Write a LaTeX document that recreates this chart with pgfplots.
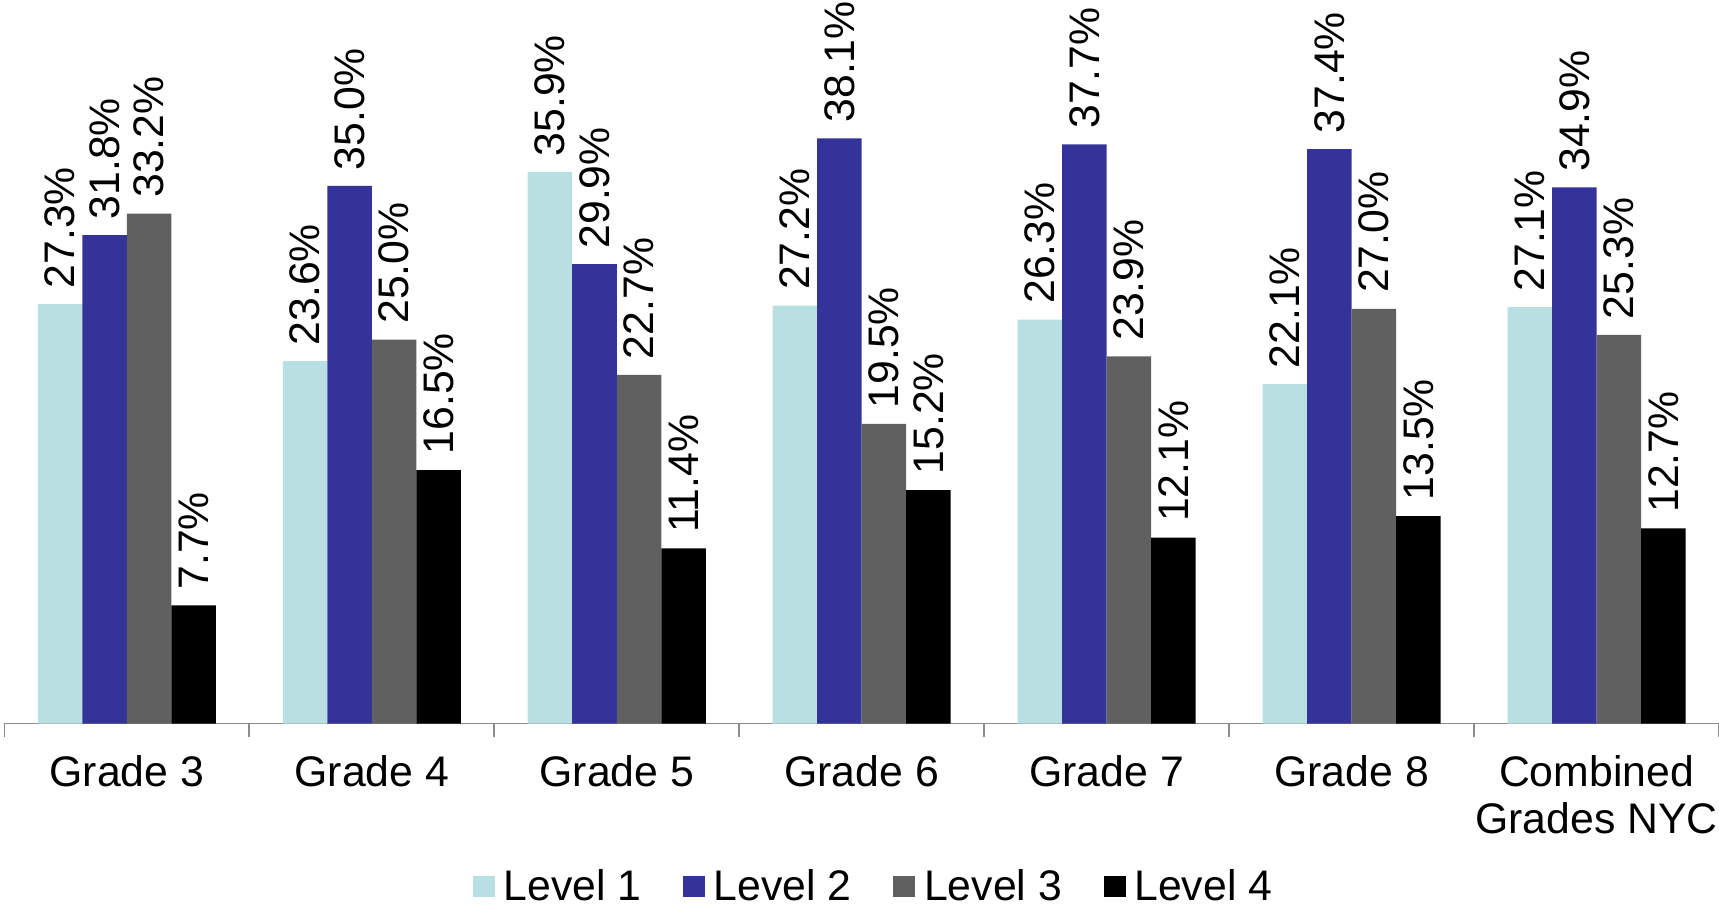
\documentclass[border=0pt]{standalone}
\usepackage{fontspec}
\setmainfont{Liberation Sans}
\usepackage{pgfplots}
\pgfplotsset{compat=1.18}
\definecolor{lvone}{RGB}{184,223,226}
\definecolor{lvtwo}{RGB}{51,51,153}
\definecolor{lvthree}{RGB}{96,96,96}
\definecolor{axgray}{RGB}{140,140,140}
\newcommand{\cf}{\fontsize{19.5}{21.5}\selectfont}
\begin{document}
\begin{tikzpicture}
\begin{axis}[
  name=ax,
  scale only axis,
  width=782pt, height=330pt,
  xmin=-0.5, xmax=6.5,
  ymin=0, ymax=47.1,
  ybar=0pt, bar width=20.3pt,
  axis x line*=bottom,
  axis y line=none,
  x axis line style={axgray, line width=0.8pt},
  xtick={-0.5,0.5,1.5,2.5,3.5,4.5,5.5,6.5},
  xticklabels={},
  tick align=outside,
  major tick length=6pt,
  x tick style={axgray, line width=0.8pt},
  extra x ticks={0,1,2,3,4,5,6},
  extra x tick labels={Grade 3,Grade 4,Grade 5,Grade 6,Grade 7,Grade 8,{Combined\\Grades NYC}},
  extra x tick style={major tick length=0pt, tick style={draw=none}},
  xticklabel style={font=\cf, align=center, anchor=north, yshift=-11pt},
  clip=false,
  nodes near coords={\pgfmathprintnumber[fixed,fixed zerofill,precision=1,assume math mode=true]{\pgfplotspointmeta}\%},
  every node near coord/.append style={font=\cf, rotate=90, anchor=west, inner xsep=7pt, inner ysep=0pt, text=black},
  legend columns=-1,
  legend style={draw=none, font=\cf, at={(0.5,-0.1924)}, anchor=north, xshift=6pt,
    nodes={inner xsep=2pt, inner ysep=1pt},
    /tikz/every odd column/.append style={column sep=2pt},
    /tikz/every even column/.append style={column sep=17pt}},
  legend image code/.code={\fill[#1] (0pt,-4.8pt) rectangle (10pt,5.2pt);},
]
\addplot[fill=lvone, draw=none] coordinates {(0,27.3) (1,23.6) (2,35.9) (3,27.2) (4,26.3) (5,22.1) (6,27.1)};
\addplot[fill=lvtwo, draw=none] coordinates {(0,31.8) (1,35.0) (2,29.9) (3,38.1) (4,37.7) (5,37.4) (6,34.9)};
\addplot[fill=lvthree, draw=none] coordinates {(0,33.2) (1,25.0) (2,22.7) (3,19.5) (4,23.9) (5,27.0) (6,25.3)};
\addplot[fill=black, draw=none] coordinates {(0,7.7) (1,16.5) (2,11.4) (3,15.2) (4,12.1) (5,13.5) (6,12.7)};
\legend{Level 1,Level 2,Level 3,Level 4}
\end{axis}
\pgfresetboundingbox
\path (ax.south west) ++(-2pt,-85pt) rectangle (ax.north east);
\end{tikzpicture}
\end{document}
